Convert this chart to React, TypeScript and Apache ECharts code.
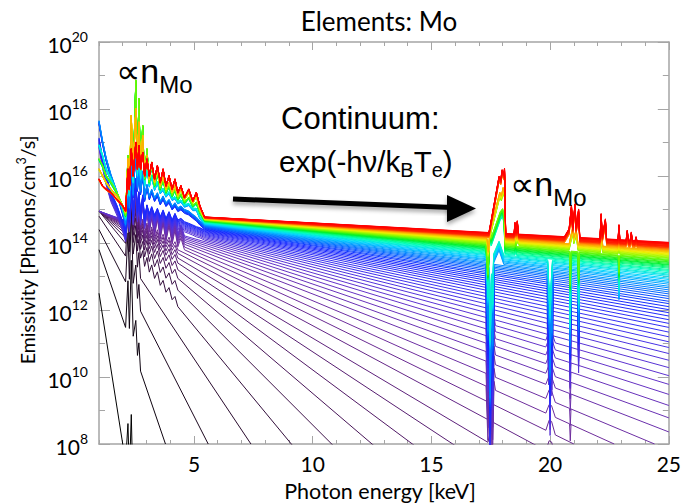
import React, { useEffect, useRef } from "react";
import * as echarts from "echarts";

// ---------------- values ----------------
// Axes
const X_MIN_KEV = 1;
const X_MAX_KEV = 25;
const X_MAJOR_TICKS = [5, 10, 15, 20, 25];
const Y_MIN = 1e8;
const Y_MAX = 1e20;

// 100 spectra, numbered from the coldest (black) to the hottest (red).
// log10 emissivity at 1 keV where the straight continuum of the four coldest lines starts
const COLD_START_LOG = [12.5, 13.8, 14.4, 14.8];
// all the other continua fan out from this level at 1 keV
const COMMON_START_LOG = 14.95;
// photon energy (keV) where lines 1-14 leave the frame through its bottom (1e8)
const BOTTOM_CROSS_KEV = [2.0, 3.8, 5.6, 7.4, 9.1, 10.8, 12.5, 14.2, 15.9, 17.5, 19.3, 21.0, 22.7, 24.4];
const BOTTOM_LOG = 8;
// log10 emissivity at 25 keV for lines 15-100
const RIGHT_EDGE_LOG = [
  8.36, 8.78, 9.15, 9.48, 9.78, 10.04, 10.28, 10.5, 10.7, 10.88,
  11.05, 11.2, 11.34, 11.48, 11.6, 11.71, 11.82, 11.92, 12.01, 12.1,
  12.19, 12.26, 12.34, 12.41, 12.48, 12.54, 12.6, 12.66, 12.71, 12.77,
  12.82, 12.86, 12.91, 12.95, 13.0, 13.04, 13.07, 13.11, 13.15, 13.18,
  13.21, 13.25, 13.28, 13.31, 13.34, 13.36, 13.39, 13.42, 13.44, 13.47,
  13.49, 13.51, 13.54, 13.56, 13.58, 13.6, 13.62, 13.64, 13.66, 13.67,
  13.69, 13.71, 13.73, 13.74, 13.76, 13.77, 13.79, 13.8, 13.82, 13.83,
  13.85, 13.86, 13.87, 13.89, 13.9, 13.91, 13.92, 13.93, 13.95, 13.96,
  13.97, 13.98, 13.99, 14.0, 14.01, 14.02,
];
// first line of each colour group: black, dark purple, purple, violet, blue, cyan, green, yellow, red
const GROUP_FIRST_LINE = [1, 5, 13, 21, 33, 43, 53, 67, 81];
const LINE_COUNT = 100;

// L-shell line forest (1 - 5.3 keV) of the hot groups: log10 emissivity of each group's middle line
const L_SHELL_KEV = [
  1.0, 1.15, 1.3, 1.5, 1.75, 2.0, 2.12, 2.22, 2.28, 2.36, 2.44, 2.55, 2.62, 2.68, 2.75, 2.84, 2.92, 3.02,
  3.12, 3.22, 3.34, 3.46, 3.58, 3.7, 3.82, 3.95, 4.08, 4.2, 4.32, 4.45, 4.6, 4.78, 4.95, 5.1, 5.25,
];
const KNEE_KEV = 5.45; // where the line forest meets the continuum
const L_SHELL_VIOLET = [
  17.0, 16.4, 15.9, 15.4, 15.0, 14.5, 14.2, 15.0, 14.5, 15.6, 14.7, 15.8, 14.8, 15.4, 14.7, 15.3, 14.6, 15.0,
  14.75, 14.95, 14.7, 14.9, 14.65, 14.85, 14.6, 14.8, 14.55, 14.75, 14.55, 14.6, 14.5, 14.45, 14.4, 14.35, 14.32,
];
const L_SHELL_BLUE = [
  17.6, 17.0, 16.5, 16.0, 15.5, 14.9, 14.5, 15.7, 15.0, 16.4, 15.4, 16.8, 15.6, 16.3, 15.5, 16.1, 15.3, 15.7,
  15.35, 15.55, 15.3, 15.45, 15.2, 15.35, 15.15, 15.25, 15.05, 15.15, 15.0, 15.05, 14.95, 14.9, 14.8, 14.72, 14.6,
];
const L_SHELL_CYAN = [
  16.9, 16.6, 16.2, 15.9, 15.5, 15.0, 14.7, 16.2, 15.4, 17.2, 15.8, 18.5, 16.0, 17.4, 15.9, 17.3, 15.7, 16.3,
  15.7, 16.0, 15.6, 15.8, 15.5, 15.6, 15.4, 15.5, 15.3, 15.35, 15.2, 15.25, 15.1, 15.15, 15.0, 15.0, 14.75,
];
const L_SHELL_GREEN = [
  16.5, 16.3, 16.0, 15.8, 15.5, 15.1, 14.8, 16.6, 15.6, 17.6, 16.0, 18.85, 16.3, 18.3, 16.2, 17.5, 15.9, 16.8,
  15.8, 16.4, 15.7, 16.1, 15.6, 15.9, 15.5, 15.7, 15.4, 15.6, 15.3, 15.45, 15.2, 15.35, 15.1, 15.2, 14.9,
];
const L_SHELL_YELLOW = [
  16.2, 16.0, 15.8, 15.6, 15.4, 15.1, 14.9, 16.5, 15.7, 17.8, 16.1, 18.0, 16.3, 17.6, 16.2, 17.2, 16.0, 16.6,
  15.9, 16.4, 15.8, 16.2, 15.7, 16.0, 15.6, 15.8, 15.5, 15.7, 15.4, 15.6, 15.3, 15.5, 15.2, 15.4, 15.0,
];
const L_SHELL_RED = [
  15.9, 15.7, 15.6, 15.5, 15.3, 15.1, 14.95, 16.2, 15.6, 16.8, 16.0, 17.0, 16.2, 16.9, 16.2, 16.7, 16.0, 16.5,
  16.0, 16.4, 15.9, 16.3, 15.8, 16.2, 15.7, 16.0, 15.6, 15.9, 15.5, 15.7, 15.35, 15.6, 15.25, 15.5, 15.1,
];
// continuum level at KNEE_KEV of the middle line of the violet ... red groups
const HOT_KNEE_LOG = [14.25, 14.47, 14.57, 14.66, 14.71, 14.76];

// L-shell spikes of the cold groups: [keV, decades above the line's own continuum]
const COLD_SPIKES_BLACK = [[2.12, 0], [2.22, 1.6], [2.28, 0.3], [2.36, 2.5], [2.44, 0.4], [2.55, 1.1], [2.62, 0.2], [2.68, 0.7], [2.75, 0]];
const COLD_SPIKES_DARK = [
  [2.12, 0], [2.22, 1.1], [2.28, 0.2], [2.36, 1.3], [2.44, 0.3], [2.55, 0.9], [2.62, 0.2], [2.68, 0.6], [2.75, 0.1],
  [2.84, 0.4], [2.92, 0], [3.02, 0.35], [3.12, 0], [3.22, 0.3], [3.34, 0], [3.46, 0.3], [3.58, 0], [3.7, 0.25],
  [3.82, 0], [3.95, 0.25], [4.08, 0], [4.2, 0.2], [4.32, 0],
];
const COLD_SPIKES_PURPLE = [
  [2.12, -0.05], [2.22, 1.0], [2.28, 0.2], [2.36, 1.3], [2.44, 0.3], [2.55, 1.2], [2.62, 0.3], [2.68, 0.9],
  [2.75, 0.2], [2.84, 0.8], [2.92, 0.1], [3.02, 0.6], [3.12, 0.05], [3.22, 0.5], [3.34, 0], [3.46, 0.55], [3.58, 0],
  [3.7, 0.5], [3.82, 0], [3.95, 0.5], [4.08, 0], [4.2, 0.45], [4.32, 0], [4.45, 0.3], [4.6, 0],
];

// K-shell features (17 - 24 keV) per group: [keV, decades relative to the line's own continuum]
const K_FEATURES_BLACK: number[][] = [];
const K_FEATURES_DARK = [[17.38, 0], [17.5, 0.4], [17.62, 0], [19.82, 0], [19.96, 0.35], [20.06, 0.35], [20.22, 0]];
const K_FEATURES_PURPLE = [
  [17.3, 0], [17.38, -1.6], [17.42, -0.5], [17.48, -3.2], [17.53, -0.8], [17.58, -1.9], [17.64, 0.25], [17.7, 0],
  [19.82, 0], [19.96, 0.3], [20.06, 0.3], [20.22, 0], [20.82, 0], [20.85, -0.5], [20.88, 0],
];
const K_FEATURES_VIOLET = [
  [17.3, 0], [17.38, -2.2], [17.42, -0.7], [17.48, -4.5], [17.53, -1.1], [17.58, -2.7], [17.64, 0],
  [19.88, 0], [19.94, -1.5], [19.97, -0.5], [20.0, -3], [20.04, -0.8], [20.07, -1.8], [20.12, 0],
  [20.82, 0], [20.85, -1.4], [20.88, 0], [21.17, 0], [21.2, -0.9], [21.23, 0],
];
const K_FEATURES_BLUE = [
  [17.3, 0], [17.38, -2.0], [17.42, -0.6], [17.48, -4], [17.53, -1.0], [17.58, -2.4], [17.64, 0],
  [19.88, 0], [19.94, -1.5], [19.97, -0.5], [20.0, -3], [20.04, -0.8], [20.07, -1.8], [20.12, 0],
  [20.82, 0], [20.85, -2.0], [20.88, 0], [21.17, 0], [21.2, -1.5], [21.23, 0],
];
const K_FEATURES_CYAN = [
  [17.32, 0], [17.38, -1.3], [17.42, -0.4], [17.48, -2.6], [17.53, -0.6], [17.58, -1.5], [17.62, 0],
  [17.85, 0.4], [18.05, 0], [19.9, 0], [19.95, -0.8], [20.0, -1.6], [20.05, -0.6], [20.1, 0],
  [20.82, 0], [20.85, -1.8], [20.88, 0], [21.17, 0], [21.2, -1.2], [21.23, 0],
  [22.87, 0], [22.9, -0.6], [22.93, 0],
];
const K_FEATURES_GREEN = [
  [17.3, 0], [17.38, -0.9], [17.43, -0.2], [17.47, 0.5], [17.52, 0.2], [17.9, 1.0], [18.0, 1.1], [18.06, 0.9],
  [18.1, 0], [18.52, 0], [18.55, 0.2], [18.58, 0], [20.82, 0], [20.85, -1.0], [20.88, 0], [21.17, 0],
  [21.2, -0.8], [21.23, 0], [22.87, 0], [22.9, -0.5], [22.93, 0],
];
const K_FEATURES_YELLOW = [
  [17.34, 0], [17.4, -0.4], [17.45, 0.1], [17.5, 0.3], [17.88, 1.4], [17.95, 1.3], [18.02, 1.55], [18.08, 1.4],
  [18.12, 0], [18.5, 0], [18.55, 0.3], [18.6, 0.05], [18.65, 0.25], [18.7, 0], [20.8, 0], [20.95, 0.5],
  [21.0, 0.2], [21.1, 0.45], [21.18, 0], [22.12, 0], [22.17, 0.4], [22.22, 0], [22.86, 0], [22.9, 0.25],
  [22.94, 0],
];
const K_FEATURES_RED = [
  [17.42, 0], [17.5, 0.3], [17.85, 1.7], [17.92, 1.6], [17.98, 1.9], [18.05, 1.75], [18.08, 1.95], [18.13, 0],
  [18.48, 0], [18.52, 0.35], [18.56, 0.05], [18.62, 0.4], [18.67, 0], [20.6, 0], [20.8, 0.25], [20.9, 0.95],
  [20.95, 0.3], [21.05, 1.0], [21.1, 0.3], [21.2, 0.85], [21.25, 0], [22.1, 0], [22.15, 0.75], [22.2, 0.1],
  [22.33, 0.6], [22.38, 0], [22.86, 0], [22.9, 0.45], [22.94, 0], [23.2, 0], [23.25, 0.3], [23.3, 0],
  [23.37, 0], [23.42, 0.25], [23.47, 0], [23.58, 0], [23.62, 0.12], [23.66, 0],
];

// ---------------- styling ----------------
const AXIS_FONT = "Lato, 'Noto Sans', sans-serif";
const NOTE_FONT = "'Liberation Sans', Arial, 'DejaVu Sans', sans-serif";
const AXIS_GREY = "#a5a5a5";
const COLOR_STOPS: [number, number[]][] = [
  [0.0, [0, 0, 0]],
  [0.03, [40, 10, 45]],
  [0.07, [80, 25, 100]],
  [0.12, [110, 45, 155]],
  [0.18, [100, 50, 200]],
  [0.25, [60, 50, 240]],
  [0.33, [20, 40, 255]],
  [0.4, [0, 120, 255]],
  [0.47, [0, 210, 255]],
  [0.53, [0, 255, 190]],
  [0.6, [0, 240, 40]],
  [0.67, [130, 250, 0]],
  [0.74, [240, 240, 0]],
  [0.81, [255, 160, 0]],
  [0.88, [255, 40, 0]],
  [1.0, [255, 0, 0]],
];

function lineColor(f: number): string {
  for (let i = 1; i < COLOR_STOPS.length; i++) {
    const [f1, c1] = COLOR_STOPS[i];
    const [f0, c0] = COLOR_STOPS[i - 1];
    if (f <= f1) {
      const t = (f - f0) / (f1 - f0);
      const c = c0.map((v, j) => Math.round(v + (c1[j] - v) * t));
      return `rgb(${c[0]},${c[1]},${c[2]})`;
    }
  }
  return "rgb(255,0,0)";
}

const HOT_PROFILES = [L_SHELL_VIOLET, L_SHELL_BLUE, L_SHELL_CYAN, L_SHELL_GREEN, L_SHELL_YELLOW, L_SHELL_RED];
const COLD_SPIKES = [COLD_SPIKES_BLACK, COLD_SPIKES_DARK, COLD_SPIKES_PURPLE];
const K_FEATURES = [
  K_FEATURES_BLACK, K_FEATURES_DARK, K_FEATURES_PURPLE, K_FEATURES_VIOLET, K_FEATURES_BLUE,
  K_FEATURES_CYAN, K_FEATURES_GREEN, K_FEATURES_YELLOW, K_FEATURES_RED,
];

function groupOf(k: number): number {
  let g = 0;
  GROUP_FIRST_LINE.forEach((first, i) => {
    if (k >= first) g = i;
  });
  return g;
}

function buildSeries() {
  const out: any[] = [];
  for (let k = 1; k <= LINE_COUNT; k++) {
    const g = groupOf(k);
    const startLog = k <= COLD_START_LOG.length ? COLD_START_LOG[k - 1] : COMMON_START_LOG;
    const cold = k <= BOTTOM_CROSS_KEV.length;
    const endKeV = cold ? BOTTOM_CROSS_KEV[k - 1] : X_MAX_KEV;
    const endLog = cold ? BOTTOM_LOG : RIGHT_EDGE_LOG[k - BOTTOM_CROSS_KEV.length - 1];
    // the straight continuum between the two read anchors (a straight line on the log axis)
    const cont = (e: number) => startLog + ((endLog - startLog) * (e - X_MIN_KEV)) / (endKeV - X_MIN_KEV);
    const pts: number[][] = [];
    if (g >= 3) {
      const prof = HOT_PROFILES[g - 3];
      const shift = cont(KNEE_KEV) - HOT_KNEE_LOG[g - 3];
      L_SHELL_KEV.forEach((e, j) => pts.push([e, prof[j] + shift]));
      pts.push([KNEE_KEV, cont(KNEE_KEV)]);
    } else {
      pts.push([X_MIN_KEV, startLog]);
      COLD_SPIKES[g].forEach(([e, d]) => pts.push([e, cont(e) + d]));
    }
    K_FEATURES[g].forEach(([e, d]) => pts.push([e, cont(e) + d]));
    pts.push([endKeV, endLog]);
    pts.sort((a, b) => a[0] - b[0]);
    out.push({
      type: "line",
      name: `line ${k}`,
      xAxisIndex: 0,
      yAxisIndex: 0,
      data: pts.map(([e, l]) => [e, Math.pow(10, l)]),
      showSymbol: false,
      symbol: "none",
      silent: true,
      clip: true,
      lineStyle: { width: 1, color: lineColor((k - 1) / (LINE_COUNT - 1)) },
      z: 2,
    });
  }
  return out;
}

function xAxisDef(position: "top" | "bottom", major: boolean, labels: boolean) {
  return {
    type: "value",
    position,
    min: X_MIN_KEV,
    max: X_MAX_KEV,
    interval: 1,
    axisLine: { show: !major, onZero: false, lineStyle: { color: AXIS_GREY, width: 1.5 } },
    axisTick: major
      ? { show: true, inside: true, length: 8, customValues: X_MAJOR_TICKS, lineStyle: { color: AXIS_GREY, width: 1 } }
      : { show: true, inside: true, length: 4, lineStyle: { color: AXIS_GREY, width: 1 } },
    axisLabel: labels
      ? {
          show: true,
          margin: 9,
          color: "#000",
          fontSize: 21,
          fontFamily: AXIS_FONT,
          formatter: (v: number) => (v % 5 === 0 ? String(v) : ""),
        }
      : { show: false },
    splitLine: { show: false },
  };
}

function yAxisDef(position: "left" | "right", major: boolean, labels: boolean) {
  return {
    type: "log",
    logBase: 10,
    position,
    min: Y_MIN,
    max: Y_MAX,
    interval: major ? 2 : 1,
    axisLine: { show: !major, onZero: false, lineStyle: { color: AXIS_GREY, width: 1.5 } },
    axisTick: { show: true, inside: true, length: major ? 11 : 6, lineStyle: { color: AXIS_GREY, width: 1 } },
    axisLabel: labels
      ? {
          show: true,
          margin: 11,
          formatter: (v: number) => {
            const e = Math.round(Math.log10(v));
            return e % 2 === 0 ? `{b|10}{s|${e}}` : "";
          },
          rich: {
            b: { fontSize: 21, fontFamily: AXIS_FONT, color: "#000", padding: [4, 0, 0, 0], verticalAlign: "bottom" },
            s: { fontSize: 14, fontFamily: AXIS_FONT, color: "#000", verticalAlign: "top" },
          },
        }
      : { show: false },
    splitLine: { show: false },
    minorTick: { show: false },
  };
}

function noteRich(mSize: number, sSize: number, mLine: number) {
  return {
    m: { fontSize: mSize, fontFamily: NOTE_FONT, fill: "#000", lineHeight: mLine },
    s: { fontSize: sSize, fontFamily: NOTE_FONT, fill: "#000", verticalAlign: "bottom" },
  };
}

function buildOption() {
  return {
    animation: false,
    backgroundColor: "#ffffff",
    grid: { left: 99, top: 42, right: 12, bottom: 59, containLabel: false },
    xAxis: [
      xAxisDef("bottom", false, true),
      xAxisDef("bottom", true, false),
      xAxisDef("top", false, false),
      xAxisDef("top", true, false),
    ],
    yAxis: [
      yAxisDef("left", false, true),
      yAxisDef("left", true, false),
      yAxisDef("right", false, false),
      yAxisDef("right", true, false),
    ],
    series: buildSeries(),
    graphic: [
      {
        type: "text",
        x: 379,
        y: 21,
        z: 100,
        style: { text: "Elements: Mo", fontSize: 26, fontFamily: AXIS_FONT, fill: "#000", textAlign: "center", textVerticalAlign: "middle" },
      },
      {
        type: "text",
        x: 380,
        y: 491,
        z: 100,
        style: { text: "Photon energy [keV]", fontSize: 21.5, fontFamily: AXIS_FONT, fill: "#000", textAlign: "center", textVerticalAlign: "middle" },
      },
      {
        type: "text",
        x: 27,
        y: 250,
        rotation: Math.PI / 2,
        z: 100,
        style: {
          text: "{m|Emissivity [Photons/cm}{s|3}{m|/s]}",
          textAlign: "center",
          textVerticalAlign: "middle",
          fill: "#000",
          rich: {
            m: { fontSize: 19.5, fontFamily: AXIS_FONT, fill: "#000", lineHeight: 25 },
            s: { fontSize: 12.5, fontFamily: AXIS_FONT, fill: "#000", verticalAlign: "top" },
          },
        },
      },
      {
        type: "text",
        x: 116,
        y: 71,
        z: 100,
        style: { text: "{m|∝n}{s|Mo}", textVerticalAlign: "middle", fill: "#000", rich: noteRich(34, 24, 50) },
      },
      {
        type: "text",
        x: 510,
        y: 184,
        z: 100,
        style: { text: "{m|∝n}{s|Mo}", textVerticalAlign: "middle", fill: "#000", rich: noteRich(34, 24, 50) },
      },
      {
        type: "text",
        x: 281,
        y: 118,
        z: 100,
        style: { text: "Continuum:", fontSize: 31, fontFamily: NOTE_FONT, fill: "#000", textVerticalAlign: "middle" },
      },
      {
        type: "text",
        x: 279,
        y: 161,
        z: 100,
        style: { text: "{m|exp(-hν/k}{s|B}{m|T}{s|e}{m|)}", textVerticalAlign: "middle", fill: "#000", rich: noteRich(29.5, 20, 38) },
      },
      {
        type: "line",
        z: 100,
        shape: { x1: 233, y1: 199, x2: 452, y2: 207.5 },
        style: { stroke: "#000", lineWidth: 5, shadowBlur: 4, shadowColor: "rgba(0,0,0,0.35)", shadowOffsetY: 3 },
      },
      {
        type: "polygon",
        z: 100,
        shape: { points: [[447, 195], [476, 208.5], [447, 222]] },
        style: { fill: "#000", shadowBlur: 4, shadowColor: "rgba(0,0,0,0.35)", shadowOffsetY: 3 },
      },
    ],
  };
}

export default function App() {
  const ref = useRef<HTMLDivElement>(null);
  useEffect(() => {
    if (!ref.current) return;
    const chart = echarts.init(ref.current, undefined, { renderer: "svg" });
    chart.setOption(buildOption() as any);
    return () => chart.dispose();
  }, []);
  return (
    <div
      ref={ref}
      style={{ position: "fixed", left: 0, top: 0, width: 684, height: 503, background: "#fff" }}
    />
  );
}
